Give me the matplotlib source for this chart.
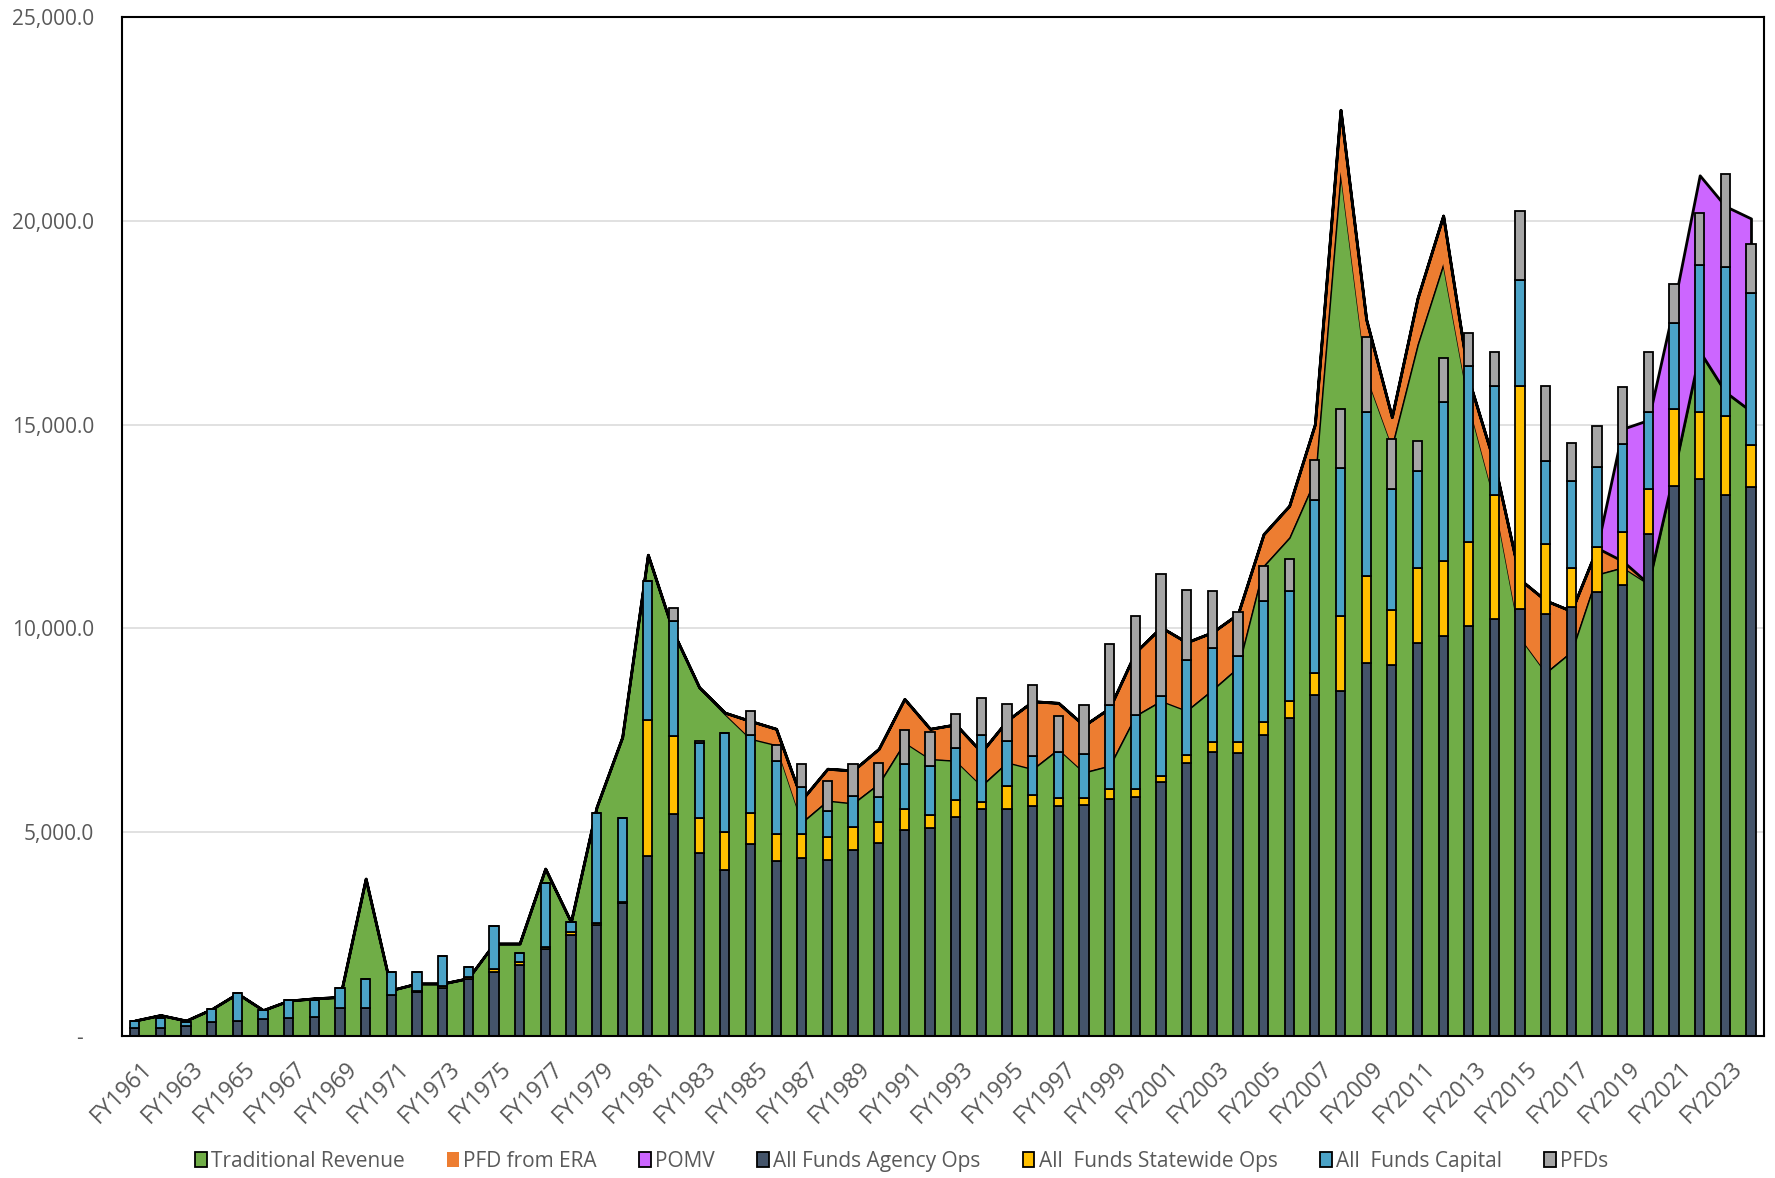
import numpy as np
import matplotlib
matplotlib.use("Agg")
import matplotlib.pyplot as plt
from matplotlib.patches import Patch
from matplotlib.transforms import ScaledTranslation

plt.rcParams['font.family'] = ['Open Sans', 'DejaVu Sans']

# Datos (millones)
years = list(range(1961, 2025))
labels = ['FY%d' % y for y in years]

trad_revenue = [380, 515, 380, 662, 1045, 637, 870, 925, 960, 3863,
                1130, 1290, 1290, 1420, 2270, 2270, 4108, 2800, 5618, 7334,
                11809, 9900, 8558, 7905, 7300, 7146, 5250, 5782, 5717, 6200,
                7212, 6803, 6762, 6150, 6721, 6558, 7048, 6476, 6640, 7865,
                8230, 7990, 8500, 9048, 11540, 12233, 13663, 21203, 16222, 14483,
                16974, 18945, 15500, 13137, 9783, 8923, 9439, 11331, 11503, 11100,
                13850, 16800, 15803, 15330]
pfd_era = [0] * 23 + [30, 430, 392, 550, 776, 800, 848,
                      1060, 735, 885, 816, 1021, 1657, 1127, 1144, 1410, 1551,
                      1800, 1671, 1406, 1307, 775, 777, 1347, 1522, 1363, 705,
                      1128, 1185, 600, 900, 1417, 1763, 989, 645, 150, 0,
                      0, 0, 0, 0]
pomv = [0] * 58 + [3247, 4015, 4100, 4318, 4558, 4730]

agency_ops = [188, 188, 245, 351, 375, 408, 433, 474, 678, 678,
              1004, 1070, 1168, 1388, 1576, 1740, 2148, 2475, 2720, 3266,
              4410, 5439, 4500, 4067, 4720, 4288, 4370, 4329, 4557, 4730,
              5047, 5112, 5374, 5578, 5578, 5643, 5635, 5676, 5806, 5864,
              6231, 6705, 6966, 6950, 7375, 7807, 8379, 8477, 9155, 9114,
              9636, 9810, 10070, 10230, 10471, 10359, 10531, 10901, 11073, 12320,
              13498, 13670, 13283, 13481]
statewide_ops = [0, 0, 0, 0, 0, 0, 0, 0, 0, 0,
                 0, 40, 57, 65, 80, 80, 30, 80, 65, 34,
                 3332, 1919, 857, 939, 751, 677, 595, 555, 571, 521,
                 514, 319, 408, 163, 547, 261, 212, 164, 246, 188,
                 147, 180, 246, 261, 326, 409, 531, 1838, 2133, 1347,
                 1859, 1850, 2050, 3036, 5478, 1720, 946, 1092, 1290, 1092,
                 1875, 1643, 1935, 1015]
capital = [187, 245, 106, 311, 670, 229, 449, 408, 490, 710,
           572, 466, 735, 245, 1039, 221, 1585, 245, 2686, 2057,
           3430, 2817, 1830, 2434, 1903, 1781, 1144, 628, 752, 613,
           1103, 1192, 1282, 1650, 1111, 964, 1119, 1085, 2078, 1837,
           1972, 2340, 2298, 2124, 2965, 2711, 4250, 3633, 4013, 2960,
           2378, 3890, 4310, 2683, 2606, 2039, 2133, 1978, 2167, 1901,
           2133, 3612, 3655, 3741]
pfds = [0] * 21 + [319, 40, 0, 597, 400, 571, 744, 800, 833,
                   849, 833, 841, 898, 914, 1756, 882, 1209, 1490, 2409,
                   2985, 1727, 1417, 1061, 857, 776, 980, 1447, 1861, 1222,
                   733, 1080, 810, 826, 1677, 1831, 938, 989, 1385, 1462,
                   937, 1264, 2288, 1204]

c_green = '#70AD47'
c_orange = '#ED7D31'
c_purple = '#CC66FF'
c_agency = '#44546A'
c_state = '#FFC000'
c_cap = '#4BA3C7'
c_pfd = '#A5A5A5'
c_text = '#595959'

x = np.arange(len(years))
trad = np.array(trad_revenue, dtype=float)
era = np.array(pfd_era, dtype=float)
pm = np.array(pomv, dtype=float)

fig = plt.figure(figsize=(17.75, 11.78), dpi=100)
ax = fig.add_axes([0.0687, 0.1205, 0.925, 0.865])

# Areas apiladas
ax.fill_between(x, 0, trad, facecolor=c_green, edgecolor='black', linewidth=1.5, zorder=1)
ax.fill_between(x, trad, trad + era, facecolor=c_orange, edgecolor='none', linewidth=0, zorder=1.1)
ax.fill_between(x, trad + era, trad + era + pm, facecolor=c_purple, edgecolor='black',
                linewidth=2.0, zorder=1.2)

# Barras apiladas
w = 0.36
bottom = np.zeros(len(x))
for vals, col in [(agency_ops, c_agency), (statewide_ops, c_state), (capital, c_cap), (pfds, c_pfd)]:
    v = np.array(vals, dtype=float)
    ax.bar(x, v, width=w, bottom=bottom, color=col, edgecolor='black', linewidth=1.3, zorder=3)
    bottom = bottom + v

ax.set_xlim(-0.5, len(x) - 0.5)
ax.set_ylim(0, 25000)
ax.set_yticks(range(0, 25001, 5000))
ax.set_yticklabels(['-  '] + ['{:,.1f}'.format(v) for v in range(5000, 25001, 5000)])
ax.yaxis.grid(True, color='#D9D9D9', linewidth=1.1, zorder=0)
ax.set_axisbelow(True)

ax.set_xticks(x[::2])
ax.set_xticklabels(labels[::2], rotation=45, ha='right', va='center', rotation_mode='anchor')
ax.tick_params(axis='both', length=0, labelcolor=c_text)
ax.tick_params(axis='y', labelsize=15, pad=20)
ax.tick_params(axis='x', labelsize=16.5, pad=21)
off = ScaledTranslation(0.14, 0, fig.dpi_scale_trans)
for lab in ax.get_xticklabels():
    lab.set_transform(lab.get_transform() + off)

for s in ax.spines.values():
    s.set_color('black')
    s.set_linewidth(1.5)
    s.set_zorder(5)

handles = [
    Patch(facecolor=c_green, edgecolor='black', linewidth=1.3, label='Traditional Revenue'),
    Patch(facecolor=c_orange, edgecolor='none', label='PFD from ERA'),
    Patch(facecolor=c_purple, edgecolor='black', linewidth=1.3, label='POMV'),
    Patch(facecolor=c_agency, edgecolor='black', linewidth=1.3, label='All Funds Agency Ops'),
    Patch(facecolor=c_state, edgecolor='black', linewidth=1.3, label='All  Funds Statewide Ops'),
    Patch(facecolor=c_cap, edgecolor='black', linewidth=1.3, label='All  Funds Capital'),
    Patch(facecolor=c_pfd, edgecolor='black', linewidth=1.3, label='PFDs'),
]
leg = fig.legend(handles=handles, loc='center', bbox_to_anchor=(0.508, 0.0144), ncol=7,
                 frameon=False, fontsize=15, handlelength=0.55, handleheight=0.75,
                 handletextpad=0.2, columnspacing=2.05, borderaxespad=0)
for t in leg.get_texts():
    t.set_color(c_text)

fig.savefig('out.png', dpi=100)
